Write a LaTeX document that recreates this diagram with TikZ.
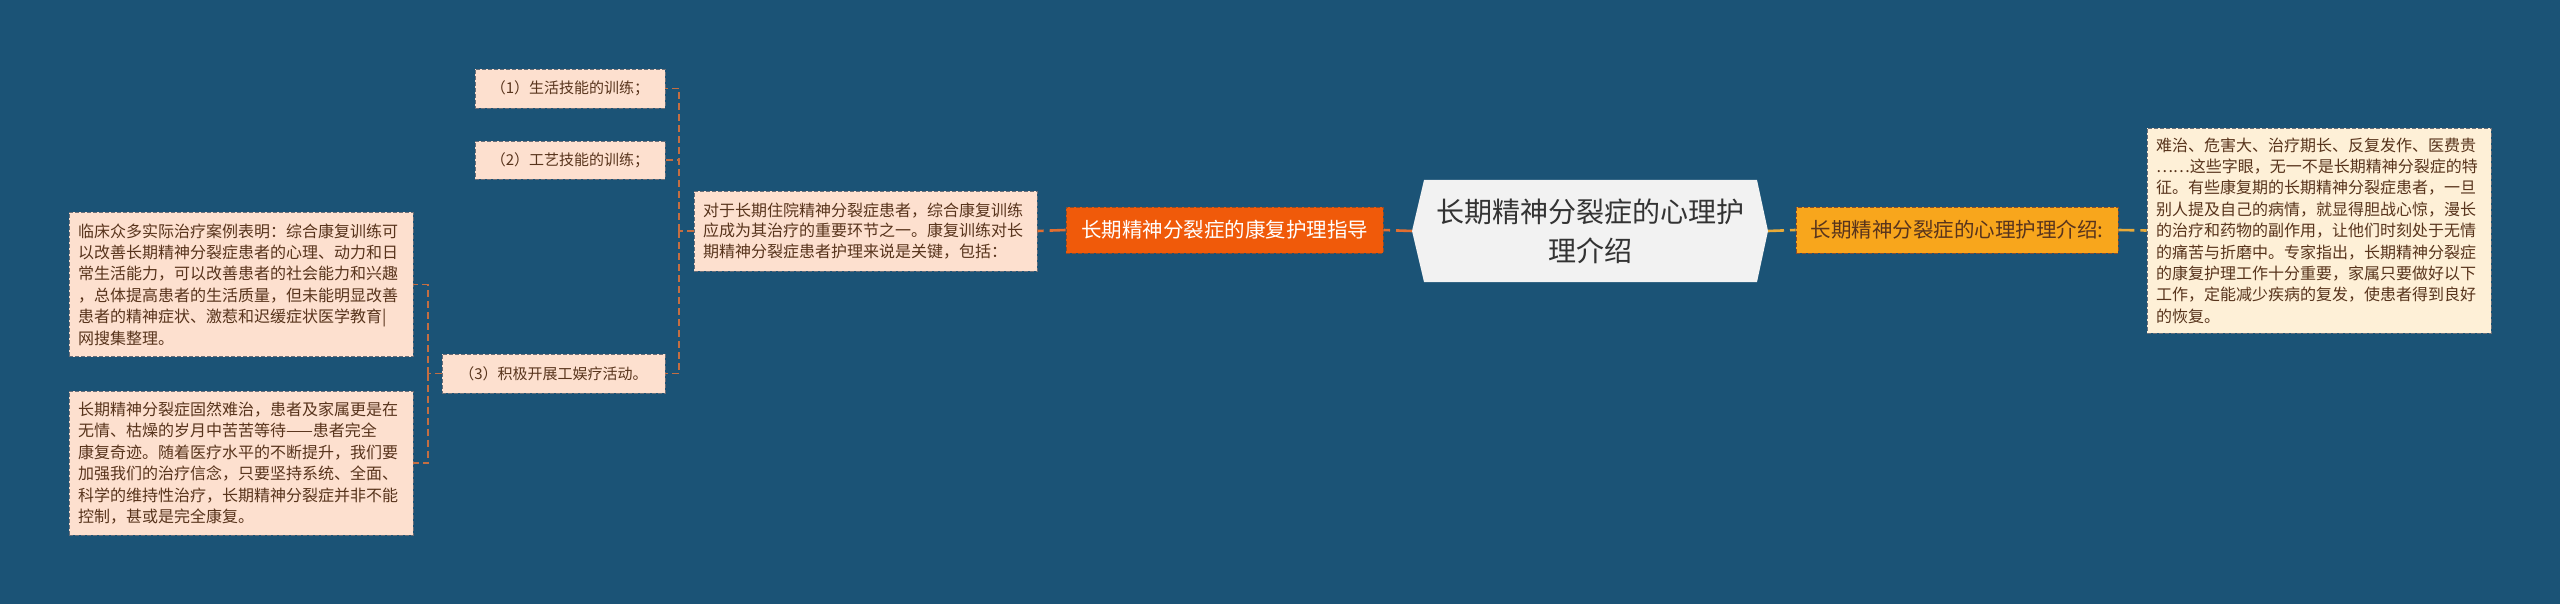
\documentclass[tikz,border=0pt]{standalone}
\usepackage{fontspec}
\setmainfont{Noto Sans CJK SC}
\definecolor{bg}{RGB}{27,83,118}
\definecolor{rootfill}{RGB}{242,242,242}
\definecolor{roottext}{RGB}{51,51,51}
\definecolor{redor}{RGB}{240,90,10}
\definecolor{yellor}{RGB}{248,166,28}
\definecolor{peach}{RGB}{253,224,207}
\definecolor{cream}{RGB}{254,240,215}
\definecolor{browntext}{RGB}{88,52,28}
\definecolor{boxline}{RGB}{105,110,120}
\definecolor{leftline}{RGB}{226,110,48}
\definecolor{brline}{RGB}{196,110,66}
\definecolor{rightline}{RGB}{232,170,56}
\tikzset{
  txtbox/.style={draw=boxline, dashed, dash pattern=on 4pt off 2pt, line width=0.9pt, fill=peach, text=browntext,
    inner sep=0pt, align=left, font=\fontsize{16}{21.4}\selectfont},
  itembox/.style={draw=boxline, dashed, dash pattern=on 4pt off 2pt, line width=0.9pt, fill=peach, text=browntext,
    inner sep=0pt, font=\fontsize{15}{18}\selectfont},
  redbox/.style={draw=brline!70!black, dashed, dash pattern=on 4pt off 2pt, line width=0.9pt, fill=redor, text=white,
    inner sep=0pt, font=\fontsize{20.5}{24}\selectfont},
  yelbox/.style={draw=brline!70!black, dashed, dash pattern=on 4pt off 2pt, line width=0.9pt, fill=yellor, text=browntext,
    inner sep=0pt, font=\fontsize{20.5}{24}\selectfont},
  lconn/.style={draw=leftline, line width=2.6pt, dash pattern=on 16pt off 6pt},
  rconn/.style={draw=rightline, line width=2.6pt, dash pattern=on 16pt off 6pt},
  bconn/.style={draw=brline, line width=1.6pt, dash pattern=on 7pt off 4pt},
}
\begin{document}
\begin{tikzpicture}[x=1pt,y=-1pt]
\fill[bg] (0,0) rectangle (2560,604);
\useasboundingbox (0,0) rectangle (2560,604);

% root hexagon
\fill[rootfill] (1412,231) -- (1424,180) -- (1757,180) -- (1768,231) -- (1757,282) -- (1424,282) -- cycle;
\node[text=roottext, align=center, font=\fontsize{28}{39}\selectfont, inner sep=0pt,
  minimum width=356pt, minimum height=102pt] (root) at (1590,231) {长期精神分裂症的心理护\\理介绍};
\coordinate (rootW) at (1412,231);
\coordinate (rootE) at (1768,231);

% right side
\node[yelbox, minimum width=322pt, minimum height=46pt] (ro) at (1957,230) {长期精神分裂症的心理护理介绍:};
\node[txtbox, fill=cream, minimum width=344pt, minimum height=205pt, text width=326pt] (rt) at (2319,230.5) {难治、危害大、治疗期长、反复发作、医费贵\\……这些字眼，无一不是长期精神分裂症的特\\征。有些康复期的长期精神分裂症患者，一旦\\别人提及自己的病情，就显得胆战心惊，漫长\\的治疗和药物的副作用，让他们时刻处于无情\\的痛苦与折磨中。专家指出，长期精神分裂症\\的康复护理工作十分重要，家属只要做好以下\\工作，定能减少疾病的复发，使患者得到良好\\的恢复。};

% left side
\node[redbox, minimum width=317pt, minimum height=46pt] (lo) at (1224.5,230) {长期精神分裂症的康复护理指导};
\node[txtbox, minimum width=343pt, minimum height=80pt, text width=325pt, font=\fontsize{16}{20.8}\selectfont] (dui) at (865.5,231) {对于长期住院精神分裂症患者，综合康复训练\\应成为其治疗的重要环节之一。康复训练对长\\期精神分裂症患者护理来说是关键，包括：};

\node[itembox, minimum width=190pt, minimum height=39pt] (n1) at (570,88.5) {（1）生活技能的训练；};
\node[itembox, minimum width=190pt, minimum height=38pt] (n2) at (570,160) {（2）工艺技能的训练；};
\node[itembox, minimum width=223pt, minimum height=39pt] (n3) at (553.5,373.5) {（3）积极开展工娱疗活动。};

\node[txtbox, minimum width=344pt, minimum height=144pt, text width=326pt] (b1) at (241,284.5) {临床众多实际治疗案例表明：综合康复训练可\\以改善长期精神分裂症患者的心理、动力和日\\常生活能力，可以改善患者的社会能力和兴趣\\，总体提高患者的生活质量，但未能明显改善\\患者的精神症状、激惹和迟缓症状医学教育|\\网搜集整理。};
\node[txtbox, minimum width=344pt, minimum height=144pt, text width=326pt] (b2) at (241,463) {长期精神分裂症固然难治，患者及家属更是在\\无情、枯燥的岁月中苦苦等待——患者完全\\康复奇迹。随着医疗水平的不断提升，我们要\\加强我们的治疗信念，只要坚持系统、全面、\\科学的维持性治疗，长期精神分裂症并非不能\\控制，甚或是完全康复。};

% connectors
\draw[rconn] (rootE) -- (ro.west);
\draw[rconn] (ro.east) -- (rt.west);
\draw[lconn] (rootW) -- (lo.east);
\draw[lconn] (lo.west) -- (dui.east);

\coordinate (k1) at (679,231);
\draw[bconn] (dui.west) -- (k1);
\draw[bconn] (k1) |- (n1.east);
\draw[bconn] (k1) |- (n2.east);
\draw[bconn] (k1) |- (n3.east);

\coordinate (k2) at (428,373.5);
\draw[bconn] (n3.west) -- (k2);
\draw[bconn] (k2) |- (b1.east);
\draw[bconn] (k2) |- (b2.east);
\end{tikzpicture}
\end{document}
